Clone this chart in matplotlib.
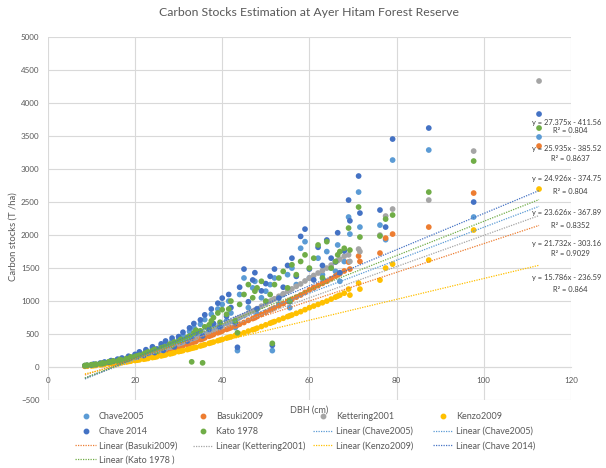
import numpy as np
import matplotlib
matplotlib.use("Agg")
import matplotlib.pyplot as plt
from matplotlib.lines import Line2D

plt.rcParams['font.family'] = ['Lato', 'DejaVu Sans']

# tree diameters (cm) and carbon stock per allometric equation (T/ha)
dbh = [8.5, 9.0, 10.0, 10.5, 11.0, 12.0, 12.5, 13.0, 14.0, 14.5,
       15.0, 16.0, 16.5, 17.0, 18.0, 18.5, 19.0, 20.0, 20.5, 21.0,
       22.0, 22.5, 23.0, 24.0, 24.5, 25.0, 26.0, 26.5, 27.0, 28.0,
       28.5, 29.0, 30.0, 30.5, 31.0, 32.0, 32.5, 33.0, 33.5, 34.0,
       35.0, 35.5, 36.0, 37.0, 37.5, 38.0, 39.0, 39.5, 40.0, 41.0,
       41.5, 42.0, 43.0, 43.5, 44.0, 45.0, 46.0, 47.0, 47.5, 48.0,
       49.0, 50.0, 51.0, 51.5, 52.0, 53.0, 54.0, 55.0, 55.5, 56.0,
       57.0, 58.0, 59.0, 60.0, 61.0, 62.0, 63.0, 64.0, 65.0, 66.0,
       66.5, 67.0, 68.0, 69.0, 69.3, 71.3, 71.6, 76.2, 77.5, 79.1,
       87.4, 97.7, 112.7]

kenzo2009 = [12, 14, 20, 22, 26, 35, 38, 42, 50, 54,
             58, 65, 70, 74, 80, 85, 90, 100, 105, 110,
             120, 126, 132, 145, 150, 158, 170, 178, 185, 200,
             208, 218, 235, 242, 250, 265, 275, 285, 292, 300,
             320, 330, 340, 360, 370, 380, 400, 410, 420, 440,
             450, 460, 480, 490, 500, 520, 545, 565, 575, 590,
             615, 640, 665, 678, 690, 715, 740, 765, 778, 790,
             815, 840, 870, 900, 925, 950, 975, 1000, 1030, 1060,
             1075, 1090, 1120, 1182, 1091, 1273, 1182, 1318, 1500, 1560,
             1621, 2076, 2697]

basuki2009 = [15, 18, 26, 29, 34, 45, 49, 55, 65, 70,
              75, 85, 91, 96, 104, 110, 117, 130, 137, 143,
              156, 164, 172, 189, 195, 205, 221, 231, 240, 260,
              270, 283, 305, 315, 325, 345, 358, 370, 380, 390,
              416, 429, 442, 468, 481, 494, 520, 533, 546, 572,
              585, 598, 624, 637, 650, 676, 708, 735, 748, 767,
              800, 832, 865, 881, 897, 930, 962, 995, 1011, 1027,
              1060, 1092, 1130, 1170, 1203, 1235, 1268, 1300, 1339, 1378,
              1398, 1417, 1456, 1591, 1485, 1682, 1600, 1727, 1954, 2015,
              2121, 2636, 3348]

kettering2001 = [18, 21, 30, 33, 39, 52, 57, 63, 75, 81,
                 87, 98, 105, 111, 120, 128, 135, 150, 158, 165,
                 180, 189, 198, 218, 225, 237, 255, 267, 278, 300,
                 312, 327, 352, 363, 375, 398, 412, 428, 438, 450,
                 480, 495, 510, 540, 555, 570, 600, 615, 630, 660,
                 675, 690, 720, 735, 750, 780, 818, 848, 863, 885,
                 923, 960, 998, 1017, 1035, 1073, 1110, 1148, 1167, 1185,
                 1223, 1260, 1305, 1350, 1388, 1425, 1463, 1500, 1545, 1590,
                 1613, 1635, 1680, 1700, 1600, 1788, 1750, 2000, 2288, 2394,
                 2530, 3272, 4333]

chave2005 = [20, 24, 28, 40, 35, 55, 48, 70, 66, 90,
             80, 110, 88, 125, 105, 150, 130, 175, 140, 210,
             160, 240, 190, 280, 200, 250, 320, 230, 360, 300,
             400, 280, 420, 350, 480, 360, 540, 400, 600, 470,
             650, 430, 720, 520, 800, 600, 880, 550, 950, 700,
             1000, 820, 600, 250, 1100, 1350, 900, 1200, 1300, 800,
             1050, 1150, 1250, 250, 1350, 950, 1100, 1400, 900, 1500,
             1250, 1800, 1900, 1350, 1200, 1650, 1400, 1750, 1500, 1450,
             1850, 1300, 1600, 2273, 2015, 2651, 2121, 2151, 1930, 3136,
             3288, 2273, 3485]

chave2014 = [22, 26, 31, 44, 39, 60, 53, 77, 73, 99,
             88, 121, 97, 138, 116, 165, 143, 193, 154, 231,
             176, 264, 209, 308, 220, 275, 352, 253, 396, 330,
             440, 308, 462, 385, 528, 396, 594, 440, 660, 517,
             715, 473, 792, 572, 880, 660, 968, 605, 1045, 770,
             1100, 902, 660, 300, 1210, 1485, 990, 1320, 1430, 880,
             1155, 1265, 1375, 330, 1485, 1045, 1210, 1540, 990, 1650,
             1375, 1980, 2090, 1485, 1320, 1815, 1540, 1925, 1650, 1595,
             2035, 1430, 1760, 2530, 2216, 2894, 2333, 2379, 2121, 3454,
             3621, 2500, 3833]

kato1978 = [25, 30, 38, 35, 45, 50, 62, 60, 82, 78,
            95, 92, 115, 105, 130, 120, 155, 160, 170, 180,
            200, 215, 230, 250, 270, 240, 290, 300, 310, 350,
            330, 380, 390, 420, 410, 450, 470, 80, 520, 560,
            550, 65, 610, 640, 700, 750, 820, 680, 870, 800,
            880, 1000, 700, 520, 950, 1100, 1250, 1050, 1150, 1200,
            1300, 1000, 1100, 360, 1250, 1350, 1450, 1200, 1000, 1550,
            1400, 1600, 1700, 1500, 1650, 1850, 1350, 1900, 1500, 1600,
            1700, 1750, 1800, 2106, 1773, 2424, 1970, 1985, 2242, 2303,
            2651, 3121, 3621]

series_names = ['Chave2005', 'Basuki2009', 'Kettering2001', 'Kenzo2009', 'Chave 2014', 'Kato 1978']
series_values = [chave2005, basuki2009, kettering2001, kenzo2009, chave2014, kato1978]
colors = ['#5B9BD5', '#ED7D31', '#A5A5A5', '#FFC000', '#4472C4', '#70AD47']

# linear trendlines (slope, intercept, R2), same order as series
slopes = [24.926, 21.732, 23.626, 15.786, 27.375, 25.935]
intercepts = [-374.75, -303.16, -367.89, -236.59, -411.56, -385.52]
r2 = ['0.804', '0.9029', '0.8352', '0.864', '0.804', '0.8637']
eq_labels = ['y = 24.926x - 374.75', 'y = 21.732x - 303.16', 'y = 23.626x - 367.89',
             'y = 15.786x - 236.59', 'y = 27.375x - 411.56', 'y = 25.935x - 385.52']
# where each equation sits (y in data units)
eq_y = [2864, 1879, 2348, 1364, 3712, 3318]
r2_y = [2667, 1727, 2152, 1182, 3576, 3152]

fig = plt.figure(figsize=(6.06, 4.68), dpi=100)
ax = fig.add_axes([0.079, 0.145, 0.863, 0.776])

x = np.array(dbh)
for name, vals, c in zip(series_names, series_values, colors):
    ax.scatter(x, vals, s=17, color=c, edgecolors='none', zorder=3, label=name)

xs = np.array([min(dbh), max(dbh)])
for m, b, c in zip(slopes, intercepts, colors):
    ax.plot(xs, m * xs + b, color=c, lw=0.9, ls=(0, (1, 1)), zorder=4)

for lab, ey, r, ry in zip(eq_labels, eq_y, r2, r2_y):
    ax.text(127.0, ey, lab, fontsize=5.4, color='#404040', ha='right', va='center')
    ax.text(119.8, ry, 'R² = ' + r, fontsize=5.4, color='#404040', ha='center', va='center')

ax.set_xlim(0, 120)
ax.set_ylim(-500, 5000)
ax.set_xticks(range(0, 121, 20))
ax.set_yticks(range(-500, 5001, 500))
ax.grid(True, color='#D9D9D9', lw=0.8)
ax.set_axisbelow(True)
for s in ['top', 'right', 'left']:
    ax.spines[s].set_visible(False)
ax.spines['bottom'].set_position(('data', 0))
ax.spines['bottom'].set_color('#D9D9D9')
ax.tick_params(axis='both', length=0, labelsize=5.8, labelcolor='#595959')
ax.tick_params(axis='x', pad=7)
ax.tick_params(axis='y', pad=6)

ax.set_title('Carbon Stocks Estimation at Ayer Hitam Forest Reserve', fontsize=8.8,
             color='#595959', pad=15)
ax.set_xlabel('DBH (cm)', fontsize=6.5, color='#595959')
ax.xaxis.set_label_coords(0.50, -0.014)
ax.set_ylabel('Carbon stocks (T /ha)', fontsize=6.8, color='#595959')
ax.yaxis.set_label_coords(-0.057, 0.45)


def dot(c):
    return Line2D([], [], marker='o', ls='none', color=c, markersize=3.2)


def dash(c):
    return Line2D([], [], ls=(0, (1, 1)), color=c, lw=0.9)


columns = [
    ([dot(colors[0]), dot(colors[4]), dash(colors[1]), dash(colors[5])],
     ['Chave2005', 'Chave 2014', 'Linear (Basuki2009)', 'Linear (Kato 1978 )']),
    ([dot(colors[1]), dot(colors[5]), dash(colors[2])],
     ['Basuki2009', 'Kato 1978', 'Linear (Kettering2001)']),
    ([dot(colors[2]), dash(colors[0]), dash(colors[3])],
     ['Kettering2001', 'Linear (Chave2005)', 'Linear (Kenzo2009)']),
    ([dot(colors[3]), dash(colors[0]), dash(colors[4])],
     ['Kenzo2009', 'Linear (Chave2005)', 'Linear (Chave 2014)']),
]
col_x = [0.124, 0.318, 0.516, 0.714]
for (h, l), cx in zip(columns, col_x):
    fig.legend(h, l, loc='upper left', bbox_to_anchor=(cx, 0.119), frameon=False,
               fontsize=6.5, labelcolor='#595959', handlelength=2.3, handletextpad=0.3,
               labelspacing=0.6, borderpad=0, borderaxespad=0)

fig.savefig('out.png', dpi=100)
